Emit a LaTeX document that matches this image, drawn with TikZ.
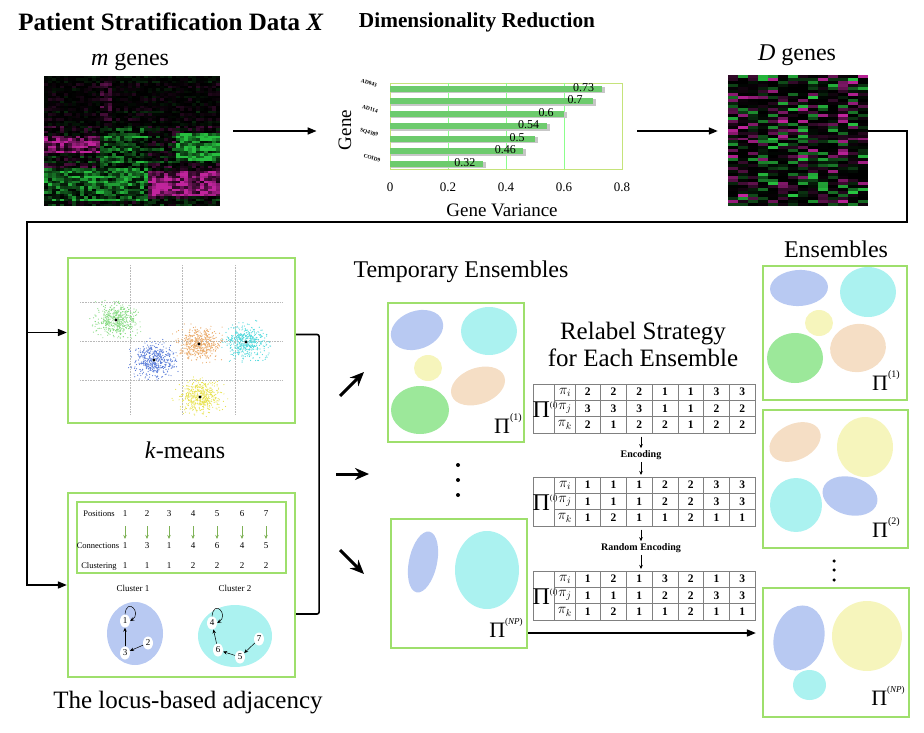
\documentclass[tikz,border=0pt]{standalone}
\usepackage{fontspec}
\setmainfont{Liberation Serif}
\usetikzlibrary{arrows.meta,positioning,calc,shapes.geometric}

\definecolor{panelgreen}{HTML}{9EDF6C}
\definecolor{plotframe}{HTML}{C5E37A}
\definecolor{barfill}{HTML}{6DCB6D}
\definecolor{cblue}{HTML}{B8C9F2}
\definecolor{ccyan}{HTML}{ABF2F0}
\definecolor{cyellow}{HTML}{F6F5BC}
\definecolor{corange}{HTML}{F5DEC5}
\definecolor{cgreen}{HTML}{9CE89A}
\definecolor{dgreen}{HTML}{86DA82}
\definecolor{dblue}{HTML}{5A7CD8}
\definecolor{dorange}{HTML}{EAAA6A}
\definecolor{dcyan}{HTML}{4FD8DC}
\definecolor{dyellow}{HTML}{E8E250}
\definecolor{hgreen}{HTML}{2EE04A}
\definecolor{hmagenta}{HTML}{E22AB8}

% relabel table: name, top, three rows of labels
\newcommand\reltable[5]{%
  \node[tabframe, anchor=north west] (#1) at (533,#2) {};
  \draw[tabrule] (554,#2) -- ++(0,49) (575,#2) -- ++(0,49)
    (554,#2+16.33) -- (755,#2+16.33) (554,#2+32.67) -- (755,#2+32.67);
  \foreach \col in {1,...,6}{\draw[tabrule] ({575+25.71*\col},#2) -- ++(0,49);}
  \node[bigpi] (#1-pi) at (545,#2+26) {Π\raisebox{10pt}{\fontsize{8}{8}\selectfont(\textit{i})}};
  \foreach \sub [count=\row] in {i,j,k}{\node[pilabel] (#1-\sub) at (565,{#2+16.33*\row-8.17}) {$\pi_{\sub}$};}
  \foreach \v [count=\col] in {#3}{\node[digit] (#1-i\col) at ({562.15+25.71*\col},#2+8.17) {\v};}
  \foreach \v [count=\col] in {#4}{\node[digit] (#1-j\col) at ({562.15+25.71*\col},#2+24.5) {\v};}
  \foreach \v [count=\col] in {#5}{\node[digit] (#1-k\col) at ({562.15+25.71*\col},#2+40.83) {\v};}
}

\begin{document}
\begin{tikzpicture}[x=1pt, y=-1pt,
  panel/.style={draw=panelgreen, line width=2.2pt, inner sep=0pt},
  link/.style={line width=1.6pt},
  flow/.style={link, -{Triangle[length=9pt,width=7pt]}},
  fat/.style={line width=3pt, -{Stealth[length=14pt,width=12pt]}},
  tip/.style={line width=.8pt, -{Stealth[length=4pt,width=3.5pt]}},
  head/.style={font=\fontsize{22}{26}\selectfont\bfseries},
  caption/.style={font=\fontsize{24}{28}\selectfont},
  tick/.style={font=\fontsize{13}{13}\selectfont},
  vallabel/.style={font=\fontsize{12}{12}\selectfont, inner sep=0pt},
  genename/.style={font=\fontsize{5.5}{6}\selectfont\bfseries, rotate=-15, inner sep=0pt},
  plotgrid/.style={draw=green!45!white, line width=.5pt},
  tabframe/.style={draw=gray, line width=.7pt, minimum width=222pt, minimum height=49pt, inner sep=0pt},
  tabrule/.style={draw=gray, line width=.6pt},
  bigpi/.style={font=\fontsize{24}{24}\selectfont, inner sep=0pt},
  pilabel/.style={font=\fontsize{14}{14}\selectfont, inner sep=0pt},
  digit/.style={font=\fontsize{11.5}{11.5}\selectfont\bfseries, inner sep=0pt},
  enc/.style={font=\fontsize{10}{10}\selectfont\bfseries, inner sep=2pt},
  rowname/.style={font=\fontsize{8.5}{9}\selectfont, inner sep=0pt},
  locdigit/.style={font=\fontsize{9}{9}\selectfont, inner sep=0pt},
  member/.style={ellipse, fill=white, inner sep=0pt, minimum width=10pt, minimum height=13pt, font=\fontsize{9}{9}\selectfont},
  greentip/.style={draw=panelgreen!80!black, line width=1pt, -{Stealth[length=4pt,width=3.5pt]}},
  bigPi/.style={font=\fontsize{22}{22}\selectfont, inner sep=0pt},
  ensdot/.style={circle, fill=black, inner sep=0pt, minimum size=4pt}]
\useasboundingbox (0,0) rectangle (924,733);

% headings
\node[head, font=\fontsize{25}{28}\selectfont\bfseries] (titleX) at (171,22) {Patient Stratification Data \textit{X}};
\node[head, font=\fontsize{21.3}{26}\selectfont\bfseries] (titleDR) at (477,22) {Dimensionality Reduction};

% raw expression map
\node[caption] (mgenes) at (130,62) {\textit{m} genes};
\node[inner sep=0pt, minimum width=176pt, minimum height=130pt] (rawmap) at (132,141) {};
\pgfmathsetseed{11}
\begin{scope}[shift={(44,76)}]
  \foreach \i in {0,...,51}{
    \pgfmathsetmacro\rv{rand}
    \foreach \j in {0,...,43}{
      \pgfmathsetmacro\v{0.3*\rv+0.45*rand+0.8*(\j>32)*(\i>22)*(\i<34)-0.7*(\j<14)*(\i>23)*(\i<31)-0.8*(\j>25)*(\i>37)*(\i<48)+0.55*(\j<26)*(\i>36)*(\i<50)+0.4*(\j>13)*(\j<26)*(\i>19)*(\i<37)-0.5*(\j>13)*(\j<17)*(\i<20)}
      \pgfmathsetmacro\v{\v*(1-0.45*(\i<20))}
      \pgfmathsetmacro\p{int(85*min(1,abs(\v))^1.5)}
      \ifdim\v pt>0pt\def\hue{hgreen}\else\def\hue{hmagenta}\fi
      \fill[\hue!\p!black] (4*\j,2.5*\i) rectangle ++(4.1,2.6);
    }
  }
\end{scope}

% variance plot
\node[draw=plotframe, line width=.8pt, inner sep=0pt, minimum width=232pt, minimum height=86pt] (varplot) at (506,126) {};
\foreach \t in {0.2,0.4,0.6} \draw[plotgrid] ({390+290*\t},83) -- ++(0,86);
\foreach \val [count=\r] in {0.73,0.7,0.6,0.54,0.5,0.46,0.32}{
  \pgfmathsetmacro\yy{76.5+12.5*\r}
  \fill[black!22] (391,\yy-2) rectangle ({393+290*\val},\yy+4.5);
  \fill[barfill] (390,\yy-3) rectangle ({390+290*\val},\yy+3);
  \node[vallabel] (val\r) at ({390+290*\val-18},\yy-1.5) {\val};
}
\foreach \t [count=\r] in {0,0.2,0.4,0.6,0.8} \node[tick] (tick\r) at ({390+290*\t},187) {\t};
\node[genename] (g1) at (369,83) {AD043};
\node[genename] (g2) at (370,109) {AD114};
\node[genename] (g3) at (369,133) {SQ4389};
\node[genename] (g4) at (372,158) {COID9};
\node[font=\fontsize{19}{19}\selectfont, rotate=90] (geneaxis) at (345,130) {Gene};
\node[font=\fontsize{19}{19}\selectfont] (varaxis) at (502,210) {Gene Variance};

% reduced map
\node[caption] (Dgenes) at (797,55) {\textit{D} genes};
\node[inner sep=0pt, minimum width=140pt, minimum height=131pt] (dmap) at (798,140.5) {};
\begin{scope}[shift={(728,75)}]
  \foreach \i in {0,...,43}{
    \foreach \j in {0,...,13}{
      \pgfmathsetmacro\v{rand}
      \pgfmathsetmacro\p{int(90*abs(\v)^2.6)}
      \ifdim\v pt>0pt\def\hue{hgreen}\else\def\hue{hmagenta}\fi
      \fill[\hue!\p!black] (10*\j,2.977*\i) rectangle ++(10.1,3.05);
    }
  }
\end{scope}

\draw[flow] ([xshift=13pt,yshift=10pt]rawmap.east) -- ([xshift=-73pt,yshift=-5pt]varplot.west);
\draw[flow] ([xshift=15pt,yshift=-5pt]varplot.east) -- ([xshift=-10pt,yshift=9.5pt]dmap.west);

% k-means panel
\node[panel, minimum width=227pt, minimum height=165pt] (kmeans) at (181.5,340.5) {};
\foreach \gx in {130,182,235} \draw[gray!55, densely dotted, line width=.6pt] (\gx,265) -- (\gx,415);
\foreach \gy in {302,341,380} \draw[gray!55, densely dotted, line width=.6pt] (80,\gy) -- (283,\gy);
\foreach \cx/\cy/\col in {116/320/dgreen, 154/360/dblue, 199/344/dorange, 246/342/dcyan, 200/397/dyellow}{
  \foreach \n in {1,...,480}{
    \pgfmathsetmacro\dx{10*(rand+rand+rand)}
    \pgfmathsetmacro\dy{8*(rand+rand+rand)}
    \fill[\col] ({\cx+\dx},{\cy+\dy}) circle (0.6pt);
  }
  \fill (\cx,\cy) circle (1.6pt);
}
\node[caption] (kcap) at (185,450) {\textit{k}-means};

% locus-based adjacency panel
\node[panel, minimum width=227pt, minimum height=184pt] (locus) at (181.5,585) {};
\node[draw=panelgreen, line width=2pt, inner sep=0pt, minimum width=209pt, minimum height=71pt] (locgrid) at (181.5,537.5) {};
\node[rowname] (rpos) at (99,514) {Positions};
\node[rowname] (rcon) at (98,546) {Connections};
\node[rowname] (rclu) at (99,566) {Clustering};
\foreach \x/\c/\g [count=\n] in {125/1/1, 147/3/1, 169/1/1, 193/4/2, 217/6/2, 242/4/2, 266/5/2}{
  \node[locdigit] (pos\n) at (\x,514) {\n};
  \node[locdigit] (con\n) at (\x,546) {\c};
  \node[locdigit] (clu\n) at (\x,566) {\g};
  \draw[greentip] (\x,526) -- (\x,539);
}
\node[locdigit] (cl1) at (133,588) {Cluster 1};
\node[locdigit] (cl2) at (235,588) {Cluster 2};
\fill[cblue] (135,633.5) ellipse (28pt and 31.5pt);
\fill[ccyan] (235,636) ellipse (37pt and 31pt);
\node[member] (m1) at (125,621) {1};
\node[member] (m2) at (148,643) {2};
\node[member] (m3) at (125,653) {3};
\node[member] (m4) at (212,623) {4};
\node[member] (m5) at (240,657) {5};
\node[member] (m6) at (218,650) {6};
\node[member] (m7) at (259,639) {7};
\draw[tip, line width=.5pt] (m3) -- (m1);
\draw[tip, line width=.5pt] (m2) -- (m3);
\draw[tip, line width=.5pt] (m6) -- (m4);
\draw[tip, line width=.5pt] (m5) -- (m6);
\draw[tip, line width=.5pt] (m7) -- (m5);
\draw[tip, line width=.5pt] (m1.north) .. controls +(2,-18) and +(12,-8) .. (m1.east);
\draw[tip, line width=.5pt] (m4.north) .. controls +(2,-18) and +(12,-8) .. (m4.east);
\node[caption, font=\fontsize{25}{28}\selectfont] (lcap) at (188,703) {The locus-based adjacency};

% from reduced map back to the clusterers
\coordinate (turn) at (27,222);
\coordinate (kin) at ([yshift=8pt]kmeans.west);
\draw[flow] ([yshift=9.5pt]dmap.east) -- ++(39,0) |- (turn) |- (locus.west);
\draw[flow] (kin -| turn) -- (kin);
\draw[link, rounded corners=2pt] ([yshift=6pt]kmeans.east) -- ++(23,0) |- ([yshift=-29pt]locus.east);

% fan of temporary ensembles
\coordinate (fan) at (318,474);
\draw[fat] (fan) ++(22,-78) -- ++(24,-24);
\draw[fat] (fan) ++(18,0) -- ++(33,0);
\draw[fat] (fan) ++(22,76) -- ++(24,24);

\node[caption] (tcap) at (461,272) {Temporary Ensembles};
\node[panel, minimum width=136pt, minimum height=139pt] (temp1) at (456,372.5) {};
\fill[cblue, rotate around={20:(417,330)}] (417,330) ellipse (27pt and 19pt);
\fill[ccyan] (489,331) ellipse (28pt and 24pt);
\fill[cyellow] (428,368) ellipse (14pt and 13pt);
\fill[corange, rotate around={20:(478,386)}] (478,386) ellipse (28pt and 18pt);
\fill[cgreen] (420,410) ellipse (29pt and 24pt);
\node[bigPi] (pt1) at (508,424) {Π\raisebox{13pt}{\fontsize{10}{10}\selectfont(1)}};
\node[ensdot] (td1) at (458,465) {};
\node[ensdot] (td2) at (458,480) {};
\node[ensdot] (td3) at (458,495) {};
\node[panel, minimum width=136pt, minimum height=129pt] (tempNP) at (459,583.5) {};
\fill[cblue, rotate around={-12:(423,562)}] (423,562) ellipse (14pt and 31pt);
\fill[ccyan] (487,570) ellipse (32pt and 39pt);
\node[bigPi] (ptNP) at (506,628) {Π\raisebox{13pt}{\fontsize{9}{9}\selectfont(\textit{NP})}};

% relabel strategy
\node[caption, align=center, font=\fontsize{25}{27}\selectfont] (relcap) at (643,344) {Relabel Strategy\\for Each Ensemble};
\reltable{tab1}{384}{2,2,2,1,1,3,3}{3,3,3,1,1,2,2}{2,1,2,2,1,2,2}
\reltable{tab2}{477}{1,1,1,2,2,3,3}{1,1,1,2,2,3,3}{1,2,1,1,2,1,1}
\reltable{tab3}{571}{1,2,1,3,2,1,3}{1,1,1,2,2,3,3}{1,2,1,1,2,1,1}
\node[enc] (enc1) at (641,455) {Encoding};
\node[enc] (enc2) at (641,548) {Random Encoding};
\draw[tip, shorten <=3pt] (tab1.south -| enc1) -- (enc1.north);
\draw[tip, shorten >=2pt] (enc1.south) -- (tab2.north -| enc1);
\draw[tip, shorten <=3pt] (tab2.south -| enc2) -- (enc2.north);
\draw[tip, shorten >=2pt] (enc2.south) -- (tab3.north -| enc2);

% final ensembles
\node[caption] (ecap) at (836,249) {Ensembles};
\node[panel, minimum width=144pt, minimum height=134pt] (ens1) at (835,333) {};
\fill[cblue, rotate around={3:(799,288)}] (799,288) ellipse (29pt and 18pt);
\fill[ccyan] (868,292) ellipse (28pt and 25pt);
\fill[cyellow] (819,323) ellipse (14pt and 13pt);
\fill[corange, rotate around={10:(858,348)}] (858,348) ellipse (28pt and 24pt);
\fill[cgreen] (795,358) ellipse (28pt and 25pt);
\node[bigPi] (pe1) at (886,381) {Π\raisebox{13pt}{\fontsize{10}{10}\selectfont(1)}};
\node[panel, minimum width=145pt, minimum height=138pt] (ens2) at (835.5,479) {};
\fill[corange, rotate around={25:(795,442)}] (795,442) ellipse (27pt and 18pt);
\fill[cyellow] (865,447) ellipse (28pt and 30pt);
\fill[ccyan] (796,505) ellipse (26pt and 27pt);
\fill[cblue, rotate around={-15:(850,496)}] (850,496) ellipse (28pt and 19pt);
\node[bigPi] (pe2) at (886,528) {Π\raisebox{13pt}{\fontsize{10}{10}\selectfont(2)}};
\node[ensdot, minimum size=3.5pt] (ed1) at (834,561) {};
\node[ensdot, minimum size=3.5pt] (ed2) at (834,570) {};
\node[ensdot, minimum size=3.5pt] (ed3) at (834,580) {};
\node[panel, minimum width=146pt, minimum height=129pt] (ensNP) at (836,652.5) {};
\fill[cblue, rotate around={-15:(799,638)}] (799,638) ellipse (25pt and 33pt);
\fill[cyellow] (867,636) ellipse (35pt and 35pt);
\fill[ccyan] (809.5,685) ellipse (16.5pt and 15pt);
\node[bigPi] (peNP) at (888,696) {Π\raisebox{13pt}{\fontsize{9}{9}\selectfont(\textit{NP})}};

\coordinate (npout) at ([yshift=-49.5pt]tempNP.east);
\draw[flow, shorten >=6pt] (npout) -- (npout -| ensNP.west);
\end{tikzpicture}
\end{document}
